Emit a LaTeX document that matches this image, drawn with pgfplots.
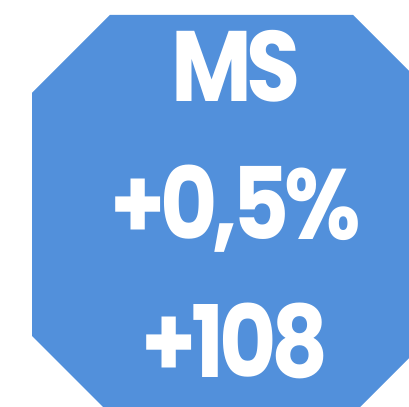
\documentclass[border=0pt]{standalone}
\usepackage{pgfplots}
\pgfplotsset{compat=1.18}
\usepackage{fontspec}
\setmainfont{Poppins}[UprightFont=* Bold, LetterSpace=-6]
\definecolor{octblue}{RGB}{82,144,219}
\begin{document}
\begin{tikzpicture}
\begin{axis}[
  width=409bp, height=407bp, scale only axis,
  xmin=0, xmax=409, ymin=0, ymax=407,
  hide axis,
  clip=true,
  clip bounding box=upper bound,
]
\path (rel axis cs:0,0) rectangle (rel axis cs:1,1);
\addplot[fill=octblue, draw=none] coordinates {
  (110,392) (353,392) (409,336) (409,49) (360,0) (103,0) (32,71) (32,314)
} --cycle;
\node[anchor=base, text=white, xscale=0.88, font=\fontsize{100bp}{100bp}\selectfont, inner sep=0pt] at (axis cs:236,305) {MS};
\node[anchor=base, text=white, xscale=0.88, font=\fontsize{100bp}{100bp}\selectfont, inner sep=0pt] at (axis cs:235.5,167) {+0,5\%};
\node[anchor=base, text=white, xscale=0.88, font=\fontsize{100bp}{100bp}\selectfont, inner sep=0pt] at (axis cs:235,30) {+108};
\end{axis}
\end{tikzpicture}
\end{document}
